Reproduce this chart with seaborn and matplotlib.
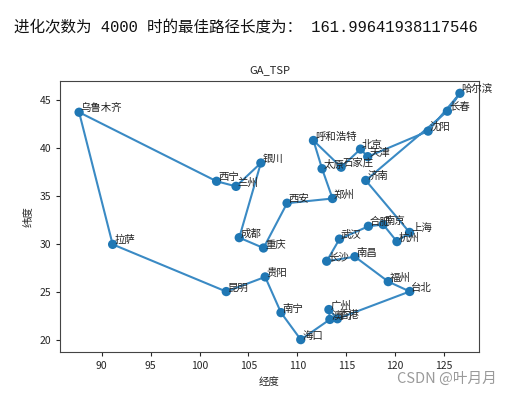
import pandas as pd
import seaborn as sns
import matplotlib
matplotlib.use("Agg")
import matplotlib.pyplot as plt

cities = ["北京", "天津", "上海", "重庆", "拉萨", "乌鲁木齐", "银川", "呼和浩特", "南宁", "哈尔滨",
          "长春", "沈阳", "石家庄", "太原", "西宁", "济南", "郑州", "南京", "合肥", "杭州",
          "福州", "南昌", "长沙", "武汉", "广州", "台北", "海口", "兰州", "西安", "成都",
          "贵阳", "昆明", "香港", "澳门"]
lon = [116.46, 117.2, 121.48, 106.54, 91.11, 87.68, 106.27, 111.65, 108.33, 126.63,
       125.35, 123.38, 114.48, 112.53, 101.74, 117, 113.6, 118.78, 117.27, 120.19,
       119.3, 115.89, 113, 114.31, 113.23, 121.5, 110.35, 103.73, 108.95, 104.06,
       106.71, 102.73, 114.1, 113.33]
lat = [39.92, 39.13, 31.22, 29.59, 29.97, 43.77, 38.47, 40.82, 22.84, 45.75,
       43.88, 41.8, 38.03, 37.87, 36.56, 36.65, 34.76, 32.04, 31.86, 30.26,
       26.08, 28.68, 28.21, 30.52, 23.16, 25.05, 20.02, 36.03, 34.27, 30.67,
       26.57, 25.04, 22.2, 22.13]

# best route found after 4000 generations
route = ["乌鲁木齐", "西宁", "兰州", "银川", "成都", "重庆", "西安", "郑州", "太原", "呼和浩特",
         "石家庄", "北京", "天津", "沈阳", "哈尔滨", "长春", "济南", "上海", "杭州", "南京",
         "合肥", "武汉", "长沙", "南昌", "福州", "台北", "香港", "广州", "澳门", "海口",
         "南宁", "贵阳", "昆明", "拉萨", "乌鲁木齐"]
generations = 4000
best_len = "161.99641938117546"

df = pd.DataFrame({"city": cities, "lon": lon, "lat": lat})
path = df.set_index("city").loc[route].reset_index()

sns.set_style("ticks")
plt.rcParams["font.family"] = ["Noto Sans CJK SC", "DejaVu Sans"]
plt.rcParams["axes.unicode_minus"] = False

fig = plt.figure(figsize=(5.09, 3.95), dpi=100)
ax = fig.add_axes([0.118, 0.109, 0.823, 0.686])

sns.lineplot(data=path, x="lon", y="lat", sort=False, estimator=None,
             color="#3a8ac4", linewidth=1.5, ax=ax)
sns.scatterplot(data=df, x="lon", y="lat", color="#1f77b4", s=45,
                edgecolor="none", zorder=3, ax=ax)
for c, x, y in zip(cities, lon, lat):
    ax.text(x + 0.15, y + 0.1, c, fontsize=7.5, color="#222222")

ax.set_title("GA_TSP", fontsize=8)
ax.set_xlabel("经度", fontsize=7.5)
ax.set_ylabel("纬度", fontsize=7.5)
ax.tick_params(labelsize=7.5, length=3)
for s in ax.spines.values():
    s.set_color("#444444")
    s.set_linewidth(0.8)

# console output printed above the chart
fig.text(0.027, 0.93, "进化次数为 %d 时的最佳路径长度为： %s" % (generations, best_len),
         fontsize=11.2, va="center", color="#111111",
         family=["Liberation Mono", "Noto Sans CJK SC"])
fig.text(0.975, 0.03, "CSDN @叶月月", fontsize=10.5, ha="right", color="#9a9a9a")

fig.savefig("out.png", dpi=100)
